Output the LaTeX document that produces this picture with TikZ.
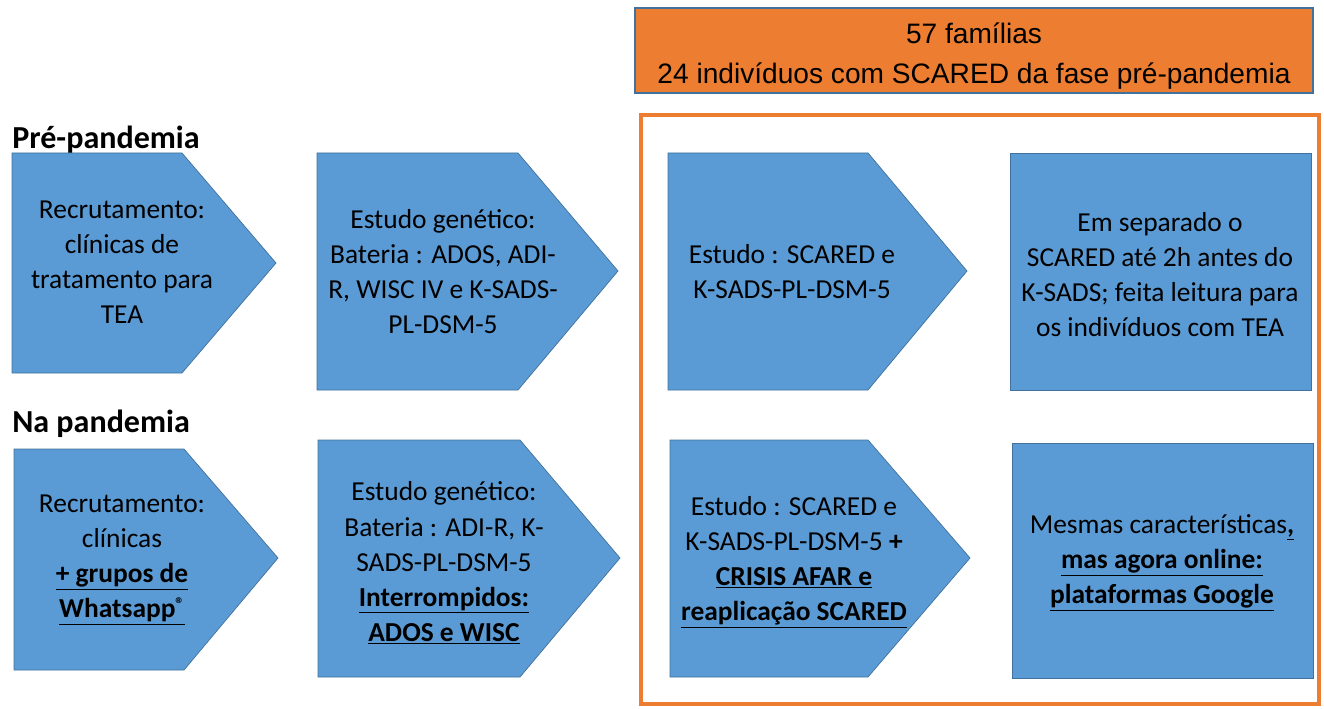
\documentclass[tikz,border=0pt]{standalone}
\usepackage{fontspec}
\setmainfont{Carlito}
\newfontfamily\arialfont{Liberation Sans}
\definecolor{caixaazul}{HTML}{5B9BD5}
\definecolor{bordaazul}{HTML}{41719C}
\definecolor{laranja}{HTML}{ED7D31}
\newcommand{\destaque}[1]{\textbf{\underline{#1}}}
\newcommand{\marca}{\raisebox{0.55ex}{\fontsize{13}{13}\selectfont\textregistered}}
\tikzset{
  caixa/.style={fill=caixaazul, draw=bordaazul, line width=0.5pt},
  texto/.style={align=center, inner sep=0pt, font=\fontsize{19.5}{24.9}\selectfont},
  fase/.style={anchor=base west, inner sep=0pt, font=\bfseries\fontsize{22.8}{27}\selectfont},
  titulo/.style={align=center, inner sep=0pt, font=\arialfont\fontsize{20}{28.5}\selectfont},
}
\begin{document}
\begin{tikzpicture}[x=0.025cm, y=-0.025cm]
\useasboundingbox (0,0) rectangle (1324,709);

% cabecalho e moldura
\draw[fill=laranja, draw=bordaazul, line width=0.8pt] (635,8) rectangle (1313,93);
\node[titulo] (familias) at (974,56) {57 famílias\\24 indivíduos com SCARED da fase pré-pandemia};
\draw[laranja, line width=3.5pt] (641,115) rectangle (1319,704);

\node[fase] (pre) at (12,149) {Pré-pandemia};
\node[fase] (pand) at (12,432) {Na pandemia};

% pre-pandemia
\draw[caixa] (12,153) -- (182,153) -- (276,263) -- (182,373) -- (12,373) -- cycle;
\node[texto] (recrut1) at (122,262) {Recrutamento:\\clínicas de\\tratamento para\\TEA};
\draw[caixa] (317,153) -- (518,153) -- (618,271) -- (518,390) -- (317,390) -- cycle;
\node[texto] (genet1) at (443,272) {Estudo genético:\\Bateria : ADOS, ADI-\\R, WISC IV e K-SADS-\\PL-DSM-5};
\draw[caixa] (668,153) -- (868,153) -- (967,271) -- (868,390) -- (668,390) -- cycle;
\node[texto] (estudo1) at (792,272) {Estudo : SCARED e\\K-SADS-PL-DSM-5};
\draw[caixa] (1010,153) rectangle (1311,390);
\node[texto] (separado) at (1160,275) {Em separado o\\SCARED até 2h antes do\\K-SADS; feita leitura para\\os indivíduos com TEA};

% na pandemia
\draw[caixa] (14,449) -- (184,449) -- (278,558) -- (184,670) -- (14,670) -- cycle;
\node[texto] (recrut2) at (122,560) {Recrutamento:\\clínicas\\\destaque{+ grupos de}\\\destaque{Whatsapp\marca}};
\draw[caixa] (318,440) -- (520,440) -- (620,558) -- (520,677) -- (318,677) -- cycle;
\node[texto] (genet2) at (444,563) {Estudo genético:\\Bateria : ADI-R, K-\\SADS-PL-DSM-5\\\destaque{Interrompidos:}\\\destaque{ADOS e WISC}};
\draw[caixa] (670,440) -- (868,440) -- (970,558) -- (868,677) -- (670,677) -- cycle;
\node[texto] (estudo2) at (794,562) {Estudo : SCARED e\\K-SADS-PL-DSM-5 \textbf{+}\\\destaque{CRISIS AFAR e}\\\destaque{reaplicação SCARED}};
\draw[caixa] (1012,443) rectangle (1313,678);
\node[texto] (online) at (1162,563) {Mesmas características\textbf{\underline{,}}\\\destaque{mas agora online:}\\\destaque{plataformas Google}};
\end{tikzpicture}
\end{document}
